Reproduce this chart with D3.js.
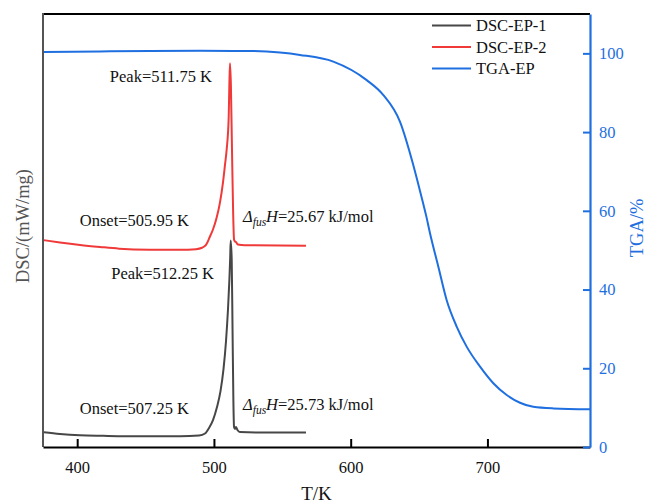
<!DOCTYPE html>
<html>
<head>
<meta charset="utf-8">
<script src="https://cdn.jsdelivr.net/npm/d3@7"></script>
<style>
  html, body { margin: 0; padding: 0; background: #fff; }
  svg { display: block; font-family: "Liberation Serif", "Times New Roman", serif; }
</style>
</head>
<body>
<svg id="chart" width="648" height="504"></svg>
<script>
// DSC run 1 (temperature K, heat flow mW/mg)
const tempDSC1 = [375.7, 387.4, 402.0, 418.9, 445.9, 475.2, 489.1, 493.46, 496.39, 499.31, 502.24, 504.8, 506.99, 508.82, 510.28, 511.31, 511.89, 512.25, 513.0, 513.6, 514.2, 514.7, 515.4, 516.1, 517.2, 519.0, 533.7, 567.3];
const dsc1 = [0.373, 0.330, 0.297, 0.284, 0.271, 0.271, 0.291, 0.342, 0.482, 0.684, 1.014, 1.419, 1.977, 2.687, 3.498, 4.258, 4.816, 5.247, 4.765, 2.991, 1.217, 0.507, 0.456, 0.507, 0.431, 0.380, 0.368, 0.368];

// DSC run 2
const tempDSC2 = [375.7, 387.4, 402.1, 416.7, 430.6, 453.2, 475.2, 486.9, 491.3, 494.2, 497.1, 499.3, 502.0, 504.4, 506.6, 508.1, 509.3, 510.8, 511.3, 511.75, 512.4, 513.2, 514.0, 514.7, 515.4, 516.1, 517.5, 522.7, 567.3];
const dsc2 = [5.254, 5.196, 5.133, 5.082, 5.039, 5.013, 5.011, 5.026, 5.062, 5.133, 5.348, 5.525, 5.830, 6.210, 6.717, 7.173, 7.553, 8.389, 9.251, 9.750, 9.200, 7.553, 6.032, 5.272, 5.221, 5.208, 5.145, 5.125, 5.112];

// TGA (temperature K, mass %)
const tempTGA = [375.7, 416.7, 453.2, 489.8, 526.4, 548.3, 562.9, 587.3, 611.7, 623.9, 636.1, 645.8, 652.4, 655.1, 658.0, 664.1, 670.2, 677.5, 684.8, 694.6, 704.3, 714.1, 723.8, 733.5, 748.2, 775.0];
const tga = [100.35, 100.48, 100.6, 100.65, 100.6, 100.2, 99.6, 97.9, 93.2, 89.4, 82.6, 71.6, 62.7, 58.9, 54.3, 45.8, 37.3, 30.6, 25.5, 20.4, 16.2, 13.2, 11.25, 10.2, 9.8, 9.6];

const xTicks = [400, 500, 600, 700];
const tgaTicks = [0, 20, 40, 60, 80, 100];

const seriesNames = ["DSC-EP-1", "DSC-EP-2", "TGA-EP"];
const seriesColors = ["#474747", "#f03a3a", "#1f6fe0"];

const peakLabels = ["Peak=511.75 K", "Peak=512.25 K"];
const onsetLabels = ["Onset=505.95 K", "Onset=507.25 K"];
const enthalpyValues = ["=25.67 kJ/mol", "=25.73 kJ/mol"];

const svg = d3.select("#chart");
const plot = { left: 43, right: 590, top: 14, bottom: 447 };

const x = d3.scaleLinear().domain([375, 775]).range([plot.left, plot.right]);
const yDSC = d3.scaleLinear().domain([0, 11]).range([plot.bottom, plot.top]);
const yTGA = d3.scaleLinear().domain([0, 110]).range([plot.bottom, plot.top]);

const pairs = (xs, ys) => xs.map((t, i) => [t, ys[i]]);

const dscLine = d3.line().x(d => x(d[0])).y(d => yDSC(d[1])).curve(d3.curveMonotoneX);
const tgaLine = d3.line().x(d => x(d[0])).y(d => yTGA(d[1])).curve(d3.curveMonotoneX);

// curves
svg.append("path").datum(pairs(tempTGA, tga))
  .attr("d", tgaLine).attr("fill", "none")
  .attr("stroke", seriesColors[2]).attr("stroke-width", 2);
svg.append("path").datum(pairs(tempDSC2, dsc2))
  .attr("d", dscLine).attr("fill", "none")
  .attr("stroke", seriesColors[1]).attr("stroke-width", 2).attr("stroke-linejoin", "round");
svg.append("path").datum(pairs(tempDSC1, dsc1))
  .attr("d", dscLine).attr("fill", "none")
  .attr("stroke", seriesColors[0]).attr("stroke-width", 2).attr("stroke-linejoin", "round");

// frame: top border and left DSC axis
svg.append("line").attr("x1", plot.left).attr("x2", plot.right).attr("y1", plot.top).attr("y2", plot.top)
  .attr("stroke", "#000").attr("stroke-width", 2);
svg.append("line").attr("x1", plot.left).attr("x2", plot.left).attr("y1", plot.top - 1).attr("y2", plot.bottom)
  .attr("stroke", "#555").attr("stroke-width", 2);

// bottom axis
const gx = svg.append("g").attr("transform", `translate(0,${plot.bottom})`)
  .attr("font-family", "Liberation Serif")
  .call(d3.axisBottom(x).tickValues(xTicks).tickSize(-8).tickPadding(14).tickSizeOuter(0));
gx.attr("font-family", "Liberation Serif");
gx.select(".domain").attr("stroke", "#000").attr("stroke-width", 2.2);
gx.selectAll(".tick line").attr("stroke", "#000").attr("stroke-width", 2);
gx.selectAll(".tick text").attr("fill", "#111").attr("font-size", 16.5);

// right TGA axis
const gy = svg.append("g").attr("transform", `translate(${plot.right},0)`)
  .call(d3.axisRight(yTGA).tickValues(tgaTicks).tickSize(-7).tickPadding(9).tickSizeOuter(0));
gy.attr("font-family", "Liberation Serif");
gy.select(".domain").attr("stroke", seriesColors[2]).attr("stroke-width", 2.2);
gy.selectAll(".tick line").attr("stroke", seriesColors[2]).attr("stroke-width", 2);
gy.selectAll(".tick text").attr("fill", seriesColors[2]).attr("font-size", 16.5);

// axis titles
svg.append("text").attr("x", (plot.left + plot.right) / 2).attr("y", 500)
  .attr("text-anchor", "middle").attr("font-size", 19).attr("fill", "#111").text("T/K");
svg.append("text").attr("transform", "translate(29,226) rotate(-90)")
  .attr("text-anchor", "middle").attr("font-size", 18.5).attr("fill", "#555").text("DSC/(mW/mg)");
svg.append("text").attr("transform", "translate(643,228) rotate(-90)")
  .attr("text-anchor", "middle").attr("font-size", 18.5).attr("fill", seriesColors[2]).text("TGA/%");

// legend
const legend = svg.append("g");
seriesNames.forEach((name, i) => {
  const yy = 25.5 + i * 21.5;
  legend.append("line").attr("x1", 432).attr("x2", 471).attr("y1", yy).attr("y2", yy)
    .attr("stroke", seriesColors[i]).attr("stroke-width", 2);
  legend.append("text").attr("x", 476).attr("y", yy).attr("dy", "0.35em")
    .attr("font-size", 16.5).attr("fill", "#111").text(name);
});

// peak annotations
const ann = svg.append("g").attr("font-size", 16.5).attr("fill", "#111");
ann.append("text").attr("x", 212).attr("y", 82).attr("text-anchor", "end").text(peakLabels[0]);
ann.append("text").attr("x", 214).attr("y", 279).attr("text-anchor", "end").text(peakLabels[1]);
ann.append("text").attr("x", 189).attr("y", 226).attr("text-anchor", "end").text(onsetLabels[0]);
ann.append("text").attr("x", 189).attr("y", 414).attr("text-anchor", "end").text(onsetLabels[1]);

function enthalpy(xPos, yPos, value) {
  const t = ann.append("text").attr("x", xPos).attr("y", yPos);
  t.append("tspan").attr("font-style", "italic").text("\u0394");
  t.append("tspan").attr("font-style", "italic").attr("font-size", 11.5).attr("dy", 4).text("fus");
  t.append("tspan").attr("font-style", "italic").attr("dy", -4).text("H");
  t.append("tspan").text(value);
}
enthalpy(243, 222, enthalpyValues[0]);
enthalpy(243, 410, enthalpyValues[1]);
</script>
</body>
</html>
